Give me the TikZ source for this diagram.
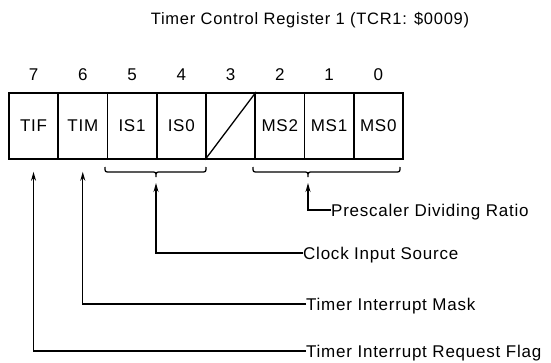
\documentclass[tikz,border=0pt]{standalone}
\usepackage{fontspec}
\setmainfont{Liberation Sans}[LetterSpace=4.5]
\usetikzlibrary{arrows.meta}
\begin{document}
\begin{tikzpicture}[x=1pt,y=-1pt,
  every node/.style={font=\fontsize{17}{19}\selectfont, inner sep=0pt},
  cell/.style={draw, line width=1.8pt, minimum width=49.25pt, minimum height=66pt, anchor=north west},
  lbl/.style={anchor=west, text height=12pt, text depth=0pt},
  conn/.style={line width=1.3pt, -{Stealth[length=9pt,width=5pt]}},
  brace/.style={line width=1.3pt}]
\useasboundingbox (0,0) rectangle (551,362);
\node[font=\fontsize{16.5}{18}\selectfont] (title) at (310,20) {Timer Control Register 1 (TCR1: \$0009)};
% register cells
\node[cell] (b7) at (8,92) {TIF};
\node[cell] (b6) at (57.25,92) {TIM};
\node[cell] (b5) at (106.5,92) {IS1};
\node[cell] (b4) at (155.75,92) {IS0};
\node[cell] (b3) at (205,92) {};
\node[cell] (b2) at (254.25,92) {MS2};
\node[cell] (b1) at (303.5,92) {MS1};
\node[cell] (b0) at (352.75,92) {MS0};
\draw[line width=1.3pt] (b3.south west) -- (b3.north east);
% bit numbers
\foreach \n in {7,6,5,4,3,2,1,0}{
  \path (b\n.north) ++(0,-17) node (n\n) {\n};
}
% braces
\draw[brace] (105,167) .. controls (105,172) .. (110,172) -- (151,172)
  .. controls (156,172) .. (156,177) .. controls (156,172) .. (161,172)
  -- (201,172) .. controls (206,172) .. (206,167);
\draw[brace] (253,167) .. controls (253,172) .. (258,172) -- (303,172)
  .. controls (308,172) .. (308,177) .. controls (308,172) .. (313,172)
  -- (395,172) .. controls (400,172) .. (400,167);
% arrow targets
\coordinate (t7) at ([yshift=-12pt]b7.south);
\coordinate (t6) at ([yshift=-12pt]b6.south);
\coordinate (tis) at (156,183);
\coordinate (tms) at (308,183);
% labels
\node[lbl] (lpr) at (331,210) {Prescaler Dividing Ratio};
\node[lbl] (lcl) at (303,253) {Clock Input Source};
\node[lbl] (ltm) at (306,304) {Timer Interrupt Mask};
\node[lbl] (ltf) at (306,351) {Timer Interrupt Request Flag};
% connectors
\draw[conn] (lpr.west) -| (tms);
\draw[conn] (lcl.west) -| (tis);
\draw[conn] (ltm.west) -| (t6);
\draw[conn] (ltf.west) -| (t7);
\end{tikzpicture}
\end{document}
